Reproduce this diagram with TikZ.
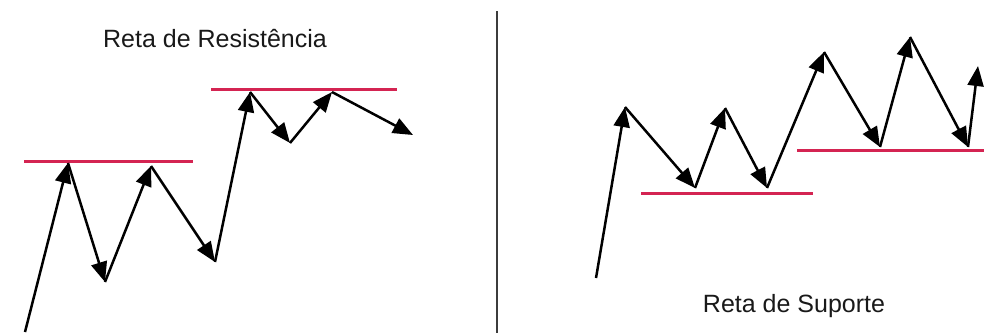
\documentclass[tikz,border=0pt]{standalone}
\usepackage{fontspec}
\setmainfont{Liberation Sans}
\usetikzlibrary{arrows.meta}

\definecolor{levelred}{RGB}{212,36,82}
\definecolor{divgray}{RGB}{60,60,60}

\begin{document}
\begin{tikzpicture}[
            x=1pt, y=-1pt,
            caption/.style={font=\fontsize{25}{30}\selectfont, text=black!90, anchor=base, inner sep=0pt},
            level/.style={levelred, line width=3pt},
            move/.style={-{Triangle[length=20pt, width=16pt]}, line width=2.5pt, black},
            divider/.style={divgray, line width=2.6pt}
        ]
        \useasboundingbox (0,0) rectangle (984,333);

        % Resistance side: price points
        \coordinate (r0) at (25,332);
        \coordinate (r1) at (68,163);
        \coordinate (r2) at (105,282);
        \coordinate (r3) at (151,166);
        \coordinate (r4) at (215,262);
        \coordinate (r5) at (250,92);
        \coordinate (r6) at (290,143);
        \coordinate (r7) at (332,92);
        \coordinate (r8) at (413,135);

        % Resistance lines
        \coordinate (ra) at (24,161.5);
        \coordinate (rb) at (193,161.5);
        \coordinate (rc) at (211,89.5);
        \coordinate (rd) at (397,89.5);
        \draw[level] (ra) -- (rb);
        \draw[level] (rc) -- (rd);

        \node[caption] (restitle) at (215,47) {Reta de Resistência};

        % Resistance moves
        \draw[move] (r0) -- (r1);
        \draw[move] (r1) -- (r2);
        \draw[move] (r2) -- (r3);
        \draw[move] (r3) -- (r4);
        \draw[move] (r4) -- (r5);
        \draw[move] (r5) -- (r6);
        \draw[move] (r6) -- (r7);
        \draw[move] (r7) -- (r8);

        % Divider
        \coordinate (dtop) at (497,11);
        \coordinate (dbot) at (497,333);
        \draw[divider] (dtop) -- (dbot);

        % Support side: price points
        \coordinate (s0) at (596,278);
        \coordinate (s1) at (625,107);
        \coordinate (s2) at (695,188);
        \coordinate (s3) at (725,108);
        \coordinate (s4) at (767,188);
        \coordinate (s5) at (824,52);
        \coordinate (s6) at (880,147);
        \coordinate (s7) at (910,37);
        \coordinate (s8) at (968,147);
        \coordinate (s9) at (978,66);

        % Support lines
        \coordinate (sa) at (641,193.5);
        \coordinate (sb) at (813,193.5);
        \coordinate (sc) at (797,150.5);
        \coordinate (sd) at (984,150.5);
        \draw[level] (sa) -- (sb);
        \draw[level] (sc) -- (sd);

        \node[caption] (suptitle) at (794,312) {Reta de Suporte};

        % Support moves
        \draw[move] (s0) -- (s1);
        \draw[move] (s1) -- (s2);
        \draw[move] (s2) -- (s3);
        \draw[move] (s3) -- (s4);
        \draw[move] (s4) -- (s5);
        \draw[move] (s5) -- (s6);
        \draw[move] (s6) -- (s7);
        \draw[move] (s7) -- (s8);
        \draw[move] (s8) -- (s9);

\end{tikzpicture}
\end{document}
